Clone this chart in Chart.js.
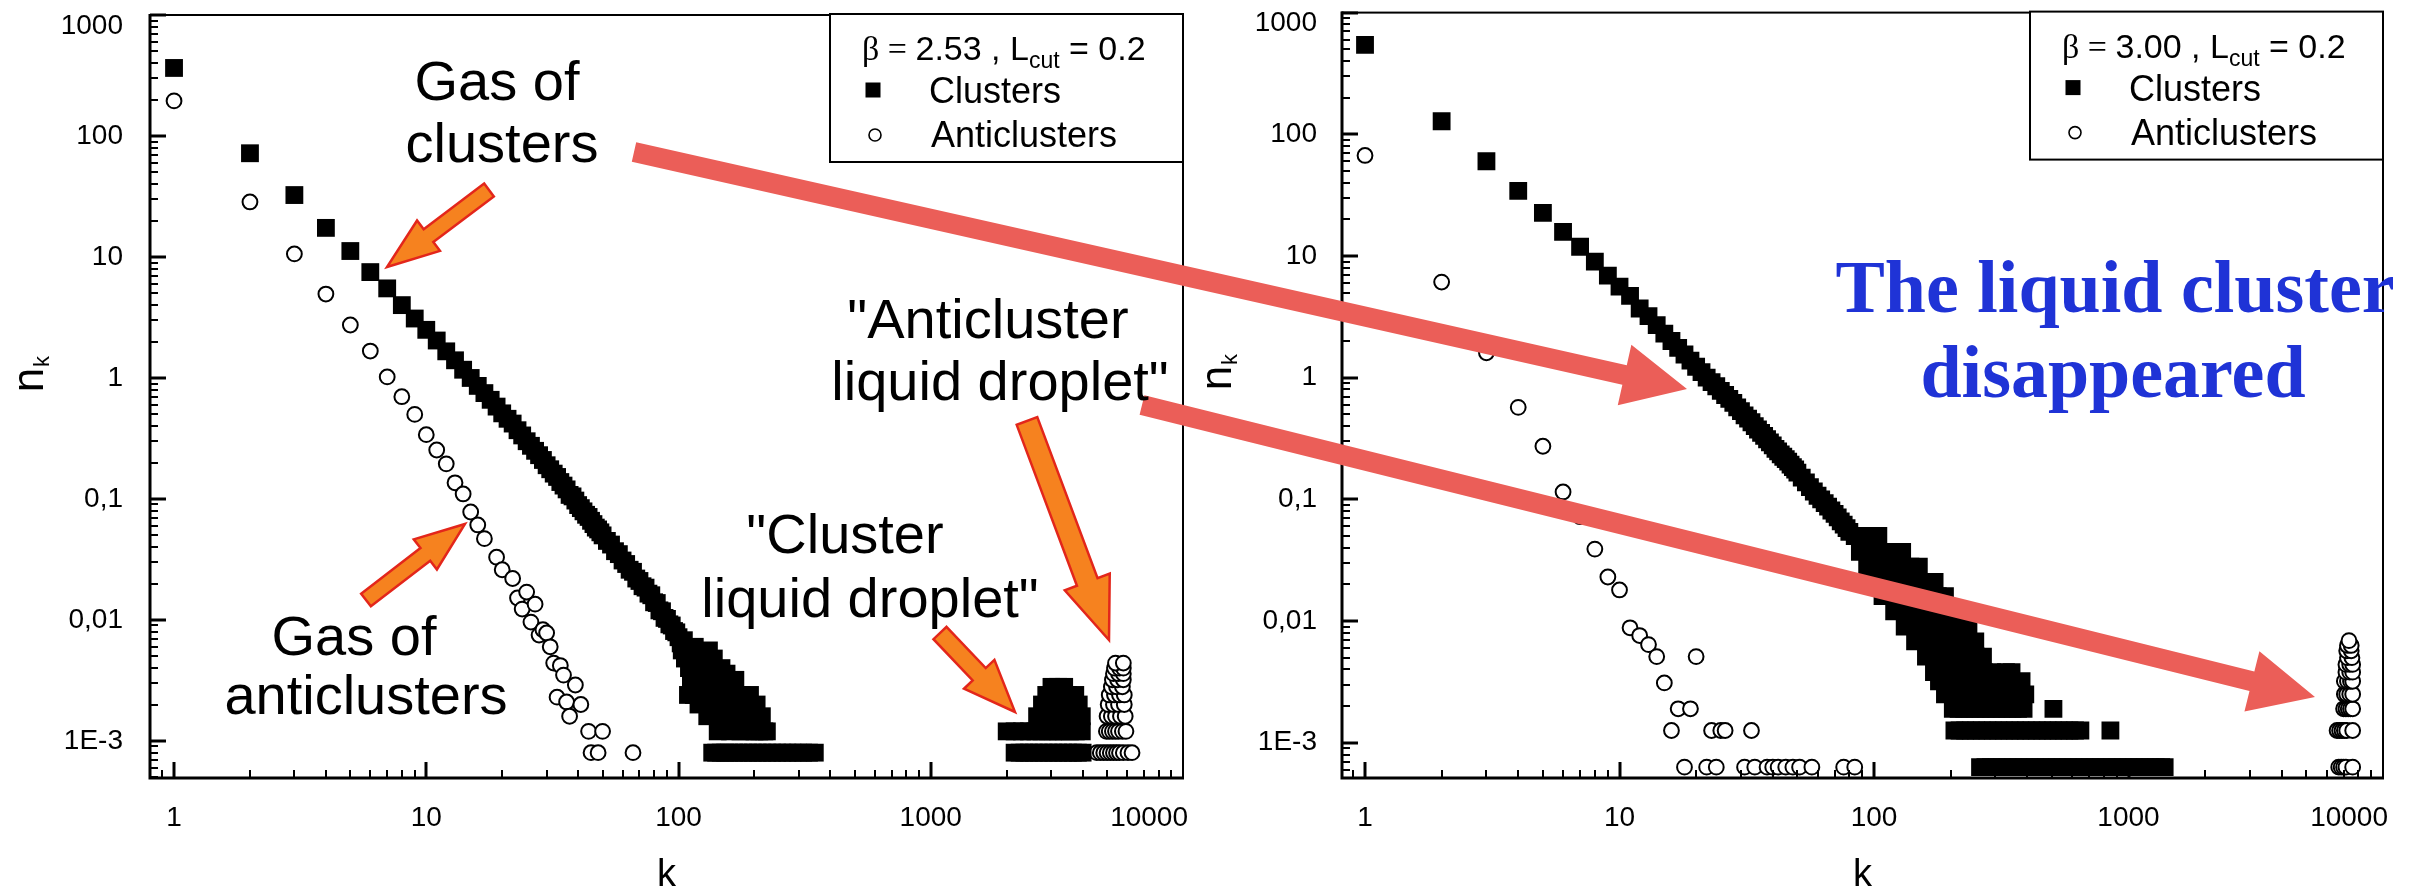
<!DOCTYPE html>
<html>
<head>
<meta charset="utf-8">
<script src="https://cdn.jsdelivr.net/npm/chart.js@4.4.0/dist/chart.umd.min.js"></script>
<style>
  html, body { margin: 0; padding: 0; background: #fff; }
  #wrap { position: relative; width: 2418px; height: 892px; overflow: hidden; background: #fff; }
  canvas { position: absolute; top: 0; }
  #left { left: 0; }
  #right { left: 1200px; }
  #notes { left: 0; pointer-events: none; }
</style>
</head>
<body>
<div id="wrap">
  <canvas id="left" width="1200" height="892"></canvas>
  <canvas id="right" width="1218" height="892"></canvas>
  <canvas id="notes" width="2418" height="892"></canvas>
</div>
<script>
// tick labels
const xTickValues = [1, 10, 100, 1000, 10000];
const xTickLabels = ['1', '10', '100', '1000', '10000'];
const yTickValues = [1000, 100, 10, 1, 0.1, 0.01, 0.001];
const yTickLabels = ['1000', '100', '10', '1', '0,1', '0,01', '1E-3'];

// ---- left panel, beta = 2.53
const leftGasK = [1, 2, 3, 4, 5, 6, 7, 8, 9, 10, 11, 12, 13, 14, 15, 16, 17, 18, 19, 20,
  21, 22, 23, 24, 25, 26, 27, 28, 29, 30, 31, 32, 33, 34, 35, 36, 37, 38, 39, 40,
  41, 42, 43, 44, 45, 46, 47, 48, 49, 50,
  52, 54, 56, 58, 60, 62, 64, 66, 68, 70, 72, 74, 76, 78, 80, 82, 84, 86, 88, 90, 92, 94, 96, 98, 100];
const leftGasN = [365, 72, 32.5, 17.4, 11.2, 7.5, 5.5, 4.0, 3.1, 2.5,
  2.04, 1.66, 1.40, 1.17, 1.00, 0.86, 0.75, 0.66, 0.58, 0.51,
  0.46, 0.42, 0.37, 0.335, 0.30, 0.275, 0.25, 0.23, 0.21, 0.19,
  0.176, 0.162, 0.152, 0.138, 0.129, 0.12, 0.108, 0.105, 0.097, 0.089,
  0.084, 0.079, 0.074, 0.071, 0.066, 0.062, 0.058, 0.056, 0.053, 0.050,
  0.045, 0.042, 0.037, 0.035, 0.031, 0.029, 0.026, 0.025, 0.022, 0.021, 0.019, 0.0185, 0.0165,
  0.016, 0.014, 0.0138, 0.012, 0.0118, 0.0104, 0.0102, 0.0092, 0.009, 0.0081, 0.0079, 0.0072];
const leftTailK = [102, 103, 105, 106, 108, 109, 110, 111, 112, 114, 115, 116, 118, 119, 120, 121, 123, 124, 126, 127,
  128, 130, 131, 132, 134, 135, 137, 138, 140, 141, 143, 145, 147, 148, 150, 152, 155, 157, 160, 162,
  165, 168, 170, 173, 176, 178, 181, 185, 188, 192, 196, 200, 204, 209, 214, 219, 224];
const leftTailN = [0.0064, 0.0056, 0.0068, 0.0048, 0.0052, 0.0024, 0.004, 0.0056, 0.0032, 0.0044,
  0.0024, 0.006, 0.0036, 0.0048, 0.002, 0.004, 0.0028, 0.0052, 0.0024, 0.0036,
  0.0044, 0.0016, 0.0032, 0.0056, 0.0024, 0.004, 0.0028, 0.0048, 0.002, 0.0036,
  0.0012, 0.0032, 0.0024, 0.004, 0.0016, 0.0028, 0.0036, 0.002, 0.0012, 0.0028,
  0.0024, 0.0032, 0.0016, 0.002, 0.0012, 0.0024, 0.0016, 0.002, 0.0012, 0.0024,
  0.0016, 0.0012, 0.002, 0.0012, 0.0016, 0.0012, 0.0012];
const leftFloorN = 8e-4;
const leftFloorK = [136, 141, 147, 153, 159, 166, 173, 181, 189, 197, 206, 215, 225, 235, 246, 258, 270, 283, 297, 312, 329, 347];
// cluster liquid droplet: [n_k, k list]
const leftDropRows = [
  [8e-4, [2150, 2250, 2350, 2450, 2560, 2680, 2800, 2930, 3060, 3200, 3350, 3500, 3660, 3830, 4000]],
  [1.2e-3, [2000, 2150, 2300, 2450, 2600, 2750, 2900, 3050, 3200, 3380, 3560, 3760, 3970]],
  [1.6e-3, [2640, 2850, 3050, 3300, 3550, 3800, 3970]],
  [2.0e-3, [2760, 2950, 3150, 3400, 3620, 3860]],
  [2.4e-3, [2870, 3050, 3250, 3500, 3740]],
  [2.8e-3, [3010, 3200, 3380]]
];
const leftAntiK = [1, 2, 3, 4, 5, 6, 7, 8, 9, 10, 11, 12, 13, 14, 15, 16, 17, 19, 20, 22,
  23, 24, 25, 26, 27, 28, 29, 30, 31, 32, 33, 34, 35, 36, 37, 39, 41, 44, 45, 48, 50, 66];
const leftAntiN = [195, 28.5, 10.6, 4.94, 2.74, 1.67, 1.02, 0.70, 0.50, 0.34,
  0.254, 0.195, 0.136, 0.11, 0.078, 0.061, 0.047, 0.033, 0.026, 0.022,
  0.0152, 0.0123, 0.017, 0.0096, 0.0135, 0.0075, 0.0083, 0.0078, 0.006, 0.0044,
  0.0023, 0.0042, 0.0035, 0.0021, 0.0016, 0.0029, 0.002, 0.0012, 0.0008, 0.0008, 0.0012, 0.0008];
// anticluster liquid droplet
const leftAntiDropRows = [
  [8e-4, [4550, 4700, 4850, 5000, 5150, 5300, 5450, 5600, 5800, 6050, 6280]],
  [1.2e-3, [4970, 5100, 5250, 5400, 5550, 5750, 5940]],
  [1.6e-3, [5000, 5200, 5400, 5650, 5900]],
  [2.0e-3, [5050, 5300, 5550, 5850]],
  [2.4e-3, [5100, 5350, 5600, 5850]],
  [2.8e-3, [5200, 5450, 5750]],
  [3.2e-3, [5250, 5500, 5800]],
  [3.6e-3, [5300, 5550, 5800]],
  [4.0e-3, [5350, 5600, 5800]],
  [4.4e-3, [5400, 5800]]
];

// ---- right panel, beta = 3.00
const rightGasK = [1, 2, 3, 4, 5, 6, 7, 8, 9, 10, 11, 12, 13, 14, 15, 16, 17, 18, 19, 20,
  21, 22, 23, 24, 25, 26, 27, 28, 29, 30, 31, 32, 33, 34, 35, 36, 37, 38, 39, 40,
  41, 42, 43, 44, 45, 46, 47, 48, 49, 50,
  52, 54, 56, 58, 60, 62, 64, 66, 68, 70, 72, 74, 76, 78, 80];
const rightGasN = [543, 128, 60, 34.3, 22.6, 15.8, 11.9, 9.0, 6.9, 5.6,
  4.7, 3.7, 3.2, 2.7, 2.3, 2.0, 1.76, 1.55, 1.38, 1.23,
  1.11, 1.0, 0.92, 0.85, 0.78, 0.72, 0.67, 0.62, 0.57, 0.53,
  0.49, 0.46, 0.43, 0.40, 0.375, 0.352, 0.332, 0.312, 0.294, 0.278,
  0.26, 0.248, 0.234, 0.224, 0.214, 0.204, 0.193, 0.184, 0.176, 0.166,
  0.151, 0.138, 0.126, 0.116, 0.107, 0.1, 0.093, 0.087, 0.081, 0.076, 0.071, 0.066, 0.062, 0.058, 0.054];
// broad tail of the cluster distribution, read level by level: [n_k, k list]
const rightTailRows = [
  [0.050, [84, 94, 104]],
  [0.037, [88, 97, 107, 118, 129]],
  [0.028, [94, 104, 115, 127, 139, 150]],
  [0.021, [100, 111, 123, 136, 150, 163, 173]],
  [0.016, [108, 120, 133, 147, 162, 178, 190]],
  [0.012, [120, 133, 147, 162, 178, 196, 215]],
  [0.009, [132, 146, 161, 178, 196, 215, 235]],
  [0.0068, [145, 160, 176, 194, 213, 233, 250]],
  [0.0051, [160, 176, 193, 212, 232, 252, 268]],
  [0.0038, [172, 189, 207, 227, 248, 270, 292, 330, 347]],
  [0.0032, [180, 198, 218, 240, 263, 288, 315, 345, 380]],
  [0.0025, [190, 209, 230, 253, 278, 305, 335, 365, 393]],
  [1.9e-3, [204, 215, 226, 238, 250, 262, 275, 288, 302, 317, 333, 350, 368, 387, 507]],
  [1.26e-3, [207, 217, 228, 240, 252, 265, 279, 293, 308, 324, 341, 358, 376, 395, 415, 436, 458, 481, 505,
    531, 558, 586, 616, 647, 849]],
  [6.3e-4, [261, 274, 288, 303, 318, 334, 351, 369, 388, 408, 429, 451, 474, 498, 523, 550, 578, 607, 638, 670,
    704, 740, 778, 818, 860, 904, 950, 998, 1049, 1102, 1158, 1217, 1279, 1344, 1387]]
];
const rightAntiK = [1, 2, 3, 4, 5, 6, 7, 8, 9, 10, 11, 12, 13, 14, 15, 16, 17, 19, 20, 23, 25, 26, 33];
const rightAntiN = [67, 6.1, 1.6, 0.57, 0.273, 0.115, 0.072, 0.039, 0.023, 0.018,
  0.0088, 0.0076, 0.0064, 0.0051, 0.0031, 0.00126, 0.0019, 0.0019, 0.0051, 0.00126, 0.00126, 0.00126, 0.00126];
const rightAntiFloorN = 6.3e-4;
const rightAntiFloorK = [18, 22, 24, 31, 34, 38, 40, 42, 45, 48, 51, 57, 76, 84];
const rightAntiDropRows = [
  [6.3e-4, [6700, 6850, 7000, 7150, 7600]],
  [1.26e-3, [6600, 6750, 6900, 7050, 7200, 7600]],
  [1.9e-3, [7000, 7150, 7300, 7450, 7600]],
  [2.5e-3, [7050, 7200, 7400, 7600]],
  [3.2e-3, [7050, 7250, 7450, 7600]],
  [3.8e-3, [7150, 7400, 7600]],
  [4.4e-3, [7150, 7400, 7600]],
  [5.0e-3, [7250, 7550]],
  [5.7e-3, [7200, 7500]],
  [6.3e-3, [7250, 7500]],
  [6.9e-3, [7350]]
];

function zip(ks, ns) { return ks.map((k, i) => ({ x: k, y: ns[i] })); }
function row(n, ks) { return ks.map(k => ({ x: k, y: n })); }
function rows(list) { return list.flatMap(r => row(r[0], r[1])); }

const SANS = '"Liberation Sans", Arial, sans-serif';

// frame, inward ticks, tick labels, axis titles and legend box
const panelDecor = {
  id: 'panelDecor',
  afterDraw(chart, args, opts) {
    const ctx = chart.ctx;
    const a = chart.chartArea;
    const xs = chart.scales.x, ys = chart.scales.y;
    ctx.save();
    ctx.strokeStyle = '#000';
    ctx.fillStyle = '#000';

    ctx.lineWidth = 2;
    ctx.strokeRect(a.left, a.top, a.right - a.left, a.bottom - a.top);
    ctx.lineWidth = 3;
    ctx.beginPath();
    ctx.moveTo(a.left, a.top - 1);
    ctx.lineTo(a.left, a.bottom);
    ctx.lineTo(a.right + 1, a.bottom);
    ctx.stroke();

    for (let e = -4; e <= 4; e++) {
      for (let m = 1; m <= 9; m++) {
        const v = m * Math.pow(10, e);
        const len = m === 1 ? 16 : 8;
        ctx.lineWidth = m === 1 ? 3 : 2;
        if (v >= ys.min && v <= ys.max * 1.0001) {
          const y = Math.round(ys.getPixelForValue(v));
          ctx.beginPath(); ctx.moveTo(a.left, y); ctx.lineTo(a.left + len, y); ctx.stroke();
        }
        if (v >= xs.min && v < xs.max * 0.9999) {
          const x = Math.round(xs.getPixelForValue(v));
          ctx.beginPath(); ctx.moveTo(x, a.bottom); ctx.lineTo(x, a.bottom - len); ctx.stroke();
        }
      }
    }

    ctx.font = '28px ' + SANS;
    ctx.textBaseline = 'middle';
    ctx.textAlign = 'right';
    yTickValues.forEach((v, i) => {
      let y = ys.getPixelForValue(v);
      if (v === ys.max) y += 11;
      ctx.fillText(yTickLabels[i], a.left - opts.yLabPad, y);
    });
    xTickValues.forEach((v, i) => {
      const x = xs.getPixelForValue(v);
      if (v >= xs.max) {
        ctx.textAlign = 'right';
        ctx.fillText(xTickLabels[i], a.right + 5, 818);
      } else {
        ctx.textAlign = 'center';
        ctx.fillText(xTickLabels[i], x, 818);
      }
    });

    // axis titles
    ctx.textBaseline = 'alphabetic';
    ctx.textAlign = 'center';
    ctx.font = '38px ' + SANS;
    ctx.fillText('k', (a.left + a.right) / 2, 886);
    ctx.save();
    ctx.translate(opts.nkX, opts.nkY);
    ctx.rotate(-Math.PI / 2);
    ctx.font = '44px ' + SANS;
    ctx.fillText('n', 0, 0);
    ctx.textAlign = 'left';
    ctx.font = '22px ' + SANS;
    ctx.fillText('k', 13, 6);
    ctx.restore();

    // legend
    const x0 = a.right - 353, y0 = a.top - 1, w = 353, h = 148;
    ctx.fillStyle = '#fff';
    ctx.fillRect(x0, y0, w, h);
    ctx.lineWidth = 2;
    ctx.strokeRect(x0, y0, w, h);
    ctx.fillStyle = '#000';
    ctx.textAlign = 'left';
    let tx = x0 + 32;
    const by = y0 + 46;
    ctx.font = '34px "Liberation Serif", serif';
    ctx.fillText('\u03b2 =', tx, by);
    tx += ctx.measureText('\u03b2 = ').width;
    ctx.font = '34px ' + SANS;
    const s1 = opts.beta + ' , L';
    ctx.fillText(s1, tx, by);
    tx += ctx.measureText(s1).width;
    ctx.font = '23px ' + SANS;
    ctx.fillText('cut', tx, by + 8);
    tx += ctx.measureText('cut').width;
    ctx.font = '34px ' + SANS;
    ctx.fillText(' = 0.2', tx, by);

    ctx.fillRect(x0 + 43 - 7.5, y0 + 76 - 7.5, 15, 15);
    ctx.beginPath();
    ctx.arc(x0 + 45, y0 + 121, 6, 0, Math.PI * 2);
    ctx.lineWidth = 1.6;
    ctx.stroke();
    ctx.font = '36px ' + SANS;
    ctx.fillText('Clusters', x0 + 99, y0 + 89);
    ctx.fillText('Anticlusters', x0 + 101, y0 + 133);
    ctx.restore();
  }
};

function makePanel(id, cfg) {
  return new Chart(document.getElementById(id), {
    type: 'scatter',
    data: {
      datasets: [{
        label: 'Clusters',
        data: cfg.clusters,
        pointStyle: 'rect',
        pointRadius: 12.6,
        backgroundColor: '#000',
        pointBackgroundColor: '#000',
        borderColor: '#000',
        pointBorderWidth: 0
      }, {
        label: 'Anticlusters',
        data: cfg.anti,
        pointStyle: 'circle',
        pointRadius: 7.4,
        backgroundColor: '#fff',
        pointBackgroundColor: '#fff',
        borderColor: '#000',
        pointBorderColor: '#000',
        pointBorderWidth: 2
      }]
    },
    options: {
      responsive: false,
      animation: false,
      devicePixelRatio: 1,
      events: [],
      layout: { padding: { left: 0, top: cfg.top, right: cfg.padRight, bottom: 0 } },
      plugins: {
        legend: { display: false },
        tooltip: { enabled: false },
        panelDecor: cfg.decor
      },
      scales: {
        x: {
          type: 'logarithmic', position: 'bottom', min: cfg.xMin, max: 10000,
          grid: { display: false }, border: { display: false }, ticks: { display: false },
          afterFit: s => { s.height = 114; s.paddingLeft = 0; s.paddingRight = 0; }
        },
        y: {
          type: 'logarithmic', position: 'left', min: cfg.yMin, max: 1000,
          grid: { display: false }, border: { display: false }, ticks: { display: false },
          afterFit: s => { s.width = cfg.yWidth; s.paddingTop = 0; s.paddingBottom = 0; }
        }
      }
    },
    plugins: [panelDecor]
  });
}

makePanel('left', {
  clusters: [...zip(leftGasK, leftGasN), ...zip(leftTailK, leftTailN), ...row(leftFloorN, leftFloorK), ...rows(leftDropRows)],
  anti: [...zip(leftAntiK, leftAntiN), ...rows(leftAntiDropRows)],
  top: 15, padRight: 17, yWidth: 150, xMin: 0.803, yMin: 4.94e-4,
  decor: { beta: '2.53', nkX: 43, nkY: 380, yLabPad: 27 }
});

makePanel('right', {
  clusters: [...zip(rightGasK, rightGasN), ...rows(rightTailRows)],
  anti: [...zip(rightAntiK, rightAntiN), ...row(rightAntiFloorN, rightAntiFloorK), ...rows(rightAntiDropRows)],
  top: 8, padRight: 35, yWidth: 142, xMin: 0.812, yMin: 5.13e-4,
  decor: { beta: '3.00', nkX: 31, nkY: 378, yLabPad: 25 }
});

// ---- annotations drawn over both panels
const notes = document.getElementById('notes').getContext('2d');

function arrowPath(ctx, x1, y1, x2, y2, w, hw, hl) {
  const ang = Math.atan2(y2 - y1, x2 - x1);
  const len = Math.hypot(x2 - x1, y2 - y1);
  ctx.save();
  ctx.translate(x1, y1);
  ctx.rotate(ang);
  ctx.beginPath();
  ctx.moveTo(0, -w);
  ctx.lineTo(len - hl, -w);
  ctx.lineTo(len - hl, -hw);
  ctx.lineTo(len, 0);
  ctx.lineTo(len - hl, hw);
  ctx.lineTo(len - hl, w);
  ctx.lineTo(0, w);
  ctx.closePath();
  ctx.restore();
}

// big red arrows
notes.fillStyle = '#EB5E58';
arrowPath(notes, 634, 152, 1687, 389, 10, 31, 64);
notes.fill();
arrowPath(notes, 1142, 405, 2315, 697, 10, 31, 65);
notes.fill();

// orange pointer arrows
const orangeArrows = [
  [489, 190, 387, 267, 8, 19, 52],
  [366, 600, 465, 524, 8, 19, 50],
  [940, 633, 1015, 712, 9, 21, 52],
  [1027, 421, 1109, 640, 11, 24, 62]
];
orangeArrows.forEach(p => {
  arrowPath(notes, p[0], p[1], p[2], p[3], p[4], p[5], p[6]);
  notes.fillStyle = '#F6821F';
  notes.fill();
  notes.lineWidth = 2.5;
  notes.lineJoin = 'miter';
  notes.strokeStyle = '#E3261B';
  notes.stroke();
});

// black captions
notes.fillStyle = '#000';
notes.textAlign = 'center';
notes.textBaseline = 'alphabetic';
notes.font = '56px ' + SANS;
[
  ['Gas of', 497, 100], ['clusters', 502, 162],
  ['Gas of', 354, 655], ['anticlusters', 366, 714],
  ['"Anticluster', 988, 338], ['liquid droplet"', 1000, 400],
  ['"Cluster', 845, 553], ['liquid droplet"', 870, 617]
].forEach(t => notes.fillText(t[0], t[1], t[2]));

// blue statement
notes.fillStyle = '#1F33D6';
notes.font = 'bold 74px "Liberation Serif", "Times New Roman", serif';
notes.fillText('The liquid cluster', 2115, 312);
notes.fillText('disappeared', 2113, 397);
</script>
</body>
</html>
